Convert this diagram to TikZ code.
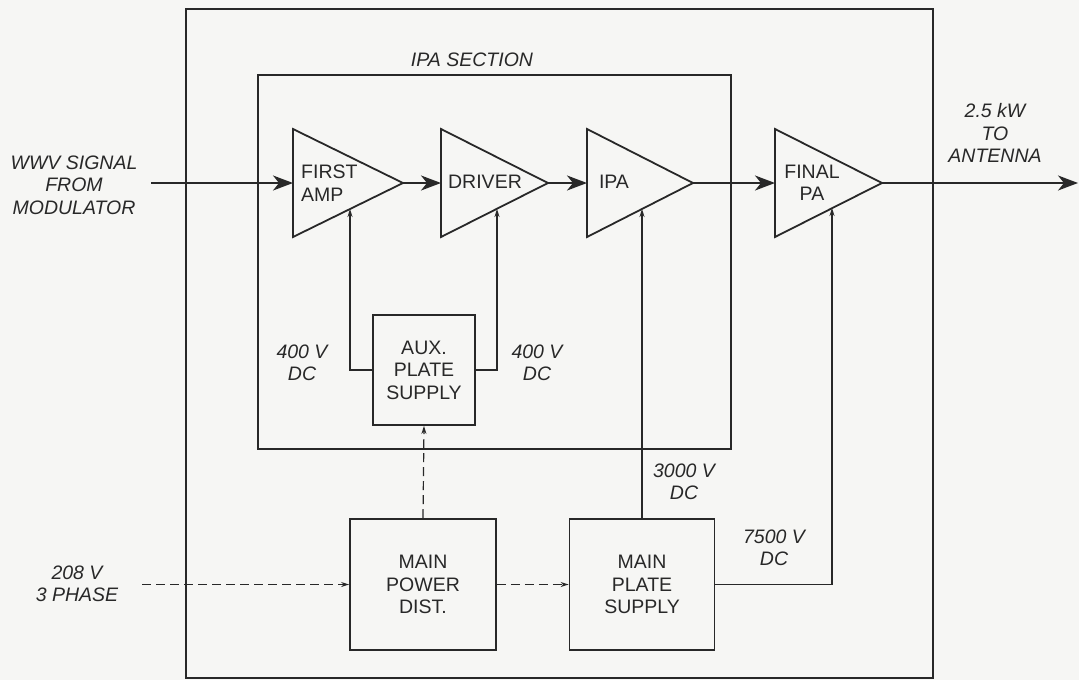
\documentclass[tikz,border=0pt]{standalone}
\usepackage{fontspec}
\setmainfont{Liberation Sans}
\usetikzlibrary{arrows.meta,calc}
\definecolor{ink}{HTML}{282828}
\definecolor{paper}{HTML}{F6F6F4}
\begin{document}
\begin{tikzpicture}[x=1pt,y=-1pt,
  every node/.style={text=ink, font=\fontsize{19.5}{22.5}\selectfont},
  ext/.style={font=\fontsize{19.5}{22.5}\selectfont\itshape, align=center, inner sep=0pt},
  lbl/.style={inner sep=0pt, align=center},
  blk/.style={draw=ink, line width=1.8pt, align=center, inner sep=0pt},
  amp/.style={draw=ink, line width=1.8pt, line join=miter},
  frame/.style={draw=ink, line width=2pt},
  subframe/.style={draw=ink, line width=1.4pt},
  sig/.style={draw=ink, line width=2pt, -{Stealth[length=20pt,width=15pt,inset=6pt]}},
  feed/.style={draw=ink, line width=1.2pt, -{Stealth[length=8pt,width=5pt]}},
  pwr/.style={draw=ink, line width=1.2pt, dash pattern=on 9pt off 5pt, -{Stealth[length=8pt,width=5pt]}},
]
% background / bounding box
\fill[paper] (0,0) rectangle (1079,680);
\useasboundingbox (0,0) rectangle (1079,680);

% frames
\draw[frame] (186,9) rectangle (933,678);
\draw[subframe] (258,75) rectangle (731,449);
\node[ext] (ipasec) at (472,60) {IPA SECTION};

% amplifier triangles
\coordinate (fa-t) at (293,129); \coordinate (fa-b) at (293,237);
\coordinate (fa-l) at (293,183); \coordinate (fa-o) at (403,183);
\coordinate (dr-t) at (441,129); \coordinate (dr-b) at (441,237);
\coordinate (dr-l) at (441,183); \coordinate (dr-o) at (548,183);
\coordinate (ipa-t) at (587,129); \coordinate (ipa-b) at (587,237);
\coordinate (ipa-l) at (587,183); \coordinate (ipa-o) at (693,183);
\coordinate (fpa-t) at (775,129); \coordinate (fpa-b) at (775,237);
\coordinate (fpa-l) at (775,183); \coordinate (fpa-o) at (882,183);
\draw[amp] (fa-t) -- (fa-o) -- (fa-b) -- cycle;
\draw[amp] (dr-t) -- (dr-o) -- (dr-b) -- cycle;
\draw[amp] (ipa-t) -- (ipa-o) -- (ipa-b) -- cycle;
\draw[amp] (fpa-t) -- (fpa-o) -- (fpa-b) -- cycle;
\node[lbl, anchor=west, align=left] (fa-txt) at (301,183) {FIRST\\AMP};
\node[lbl] (dr-txt) at (485,182) {DRIVER};
\node[lbl] (ipa-txt) at (614,182) {IPA};
\node[lbl] (fpa-txt) at (812,183) {FINAL\\PA};

% feed points on lower edges
\coordinate (fa-in) at (350,209);
\coordinate (dr-in) at (497,209);
\coordinate (ipa-in) at (642,209);
\coordinate (fpa-in) at (832,208);

% blocks
\node[blk, minimum width=102pt, minimum height=110pt] (aux) at (424,370) {AUX.\\PLATE\\SUPPLY};
\node[blk, minimum width=146pt, minimum height=131pt] (mpd) at (423,584.5) {MAIN\\POWER\\DIST.};
\node[blk, minimum width=145pt, minimum height=131pt] (mp) at (642,584.5) {MAIN\\PLATE\\SUPPLY};

% signal path
\coordinate (sigin) at (151,183);
\coordinate (out) at (1078,183);
\draw[sig] (sigin) -- (fa-l);
\draw[sig] (fa-o) -- (dr-l);
\draw[sig] (dr-o) -- (ipa-l);
\draw[sig] (ipa-o) -- (fpa-l);
\draw[sig] (fpa-o) -- (out);

% DC feeds
\draw[feed] (aux.west) -| (fa-in);
\draw[feed] (aux.east) -| (dr-in);
\draw[feed] (mp.north) -- (ipa-in);
\draw[feed] (mp.east) -| (fpa-in);

% AC power
\coordinate (acin) at (142,584.5);
\draw[pwr] (acin) -- (mpd.west);
\draw[pwr] (mpd.east) -- (mp.west);
\draw[pwr] (mpd.north) -- (aux.south);

% external labels
\node[ext] (wwv) at (74,185) {WWV SIGNAL\\FROM\\MODULATOR};
\node[ext] (ant) at (995,133) {2.5 kW\\TO\\ANTENNA};
\node[ext] (ac) at (77,584) {208 V\\3 PHASE};
\node[ext] (v400a) at (302,363) {400 V\\DC};
\node[ext] (v400b) at (537,363) {400 V\\DC};
\node[ext] (v3000) at (684,482) {3000 V\\DC};
\node[ext] (v7500) at (774,548) {7500 V\\DC};
\end{tikzpicture}
\end{document}
